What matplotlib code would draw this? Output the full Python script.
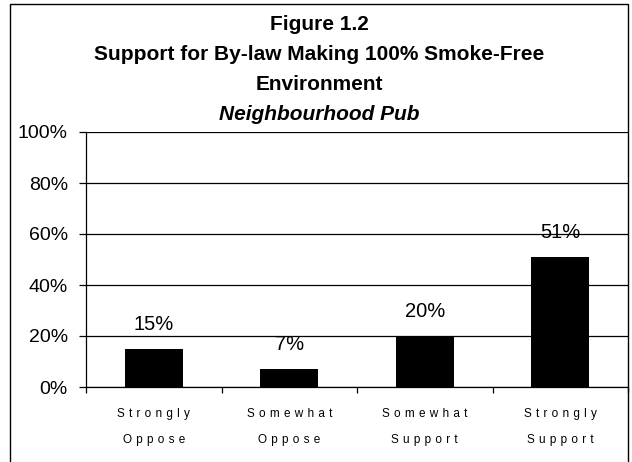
import matplotlib
matplotlib.use("Agg")
import matplotlib.pyplot as plt
from matplotlib.patches import Rectangle

plt.rcParams['font.family'] = ['Liberation Sans', 'DejaVu Sans']

SP = " \u200a"  # letter spacing for the category labels


def spaced(word):
    return SP.join(word)


categories = [("Strongly", "Oppose"), ("Somewhat", "Oppose"),
              ("Somewhat", "Support"), ("Strongly", "Support")]
values = [15, 7, 20, 51]
yticks = [0, 20, 40, 60, 80, 100]

fig = plt.figure(figsize=(6.32, 4.62), dpi=100)
ax = fig.add_axes([86 / 632, 1 - 387 / 462, 542 / 632, 255 / 462])

x = list(range(len(values)))
ax.bar(x, values, width=0.43, color="black", zorder=3)
for xi, v in zip(x, values):
    ax.annotate(f"{v}%", (xi, v), xytext=(0, 13.7), textcoords="offset points",
                ha="center", va="baseline", fontsize=14.5, zorder=4)

ax.set_xlim(-0.5, len(values) - 0.5)
ax.set_ylim(0, 100)
ax.set_yticks(yticks)
ax.set_yticklabels([f"{t}%" for t in yticks], fontsize=14)
ax.yaxis.grid(True, color="black", linewidth=0.9, zorder=0)
ax.tick_params(axis="y", length=5, width=0.9, pad=8)

ax.set_xticks(x)
ax.set_xticklabels([spaced(a) + "\n" + spaced(b) for a, b in categories],
                   fontsize=8.5, linespacing=2.6)
ax.set_xticks([i + 0.5 for i in range(-1, len(values))], minor=True)
ax.tick_params(axis="x", which="major", length=0, pad=15)
ax.tick_params(axis="x", which="minor", length=4, width=0.9, direction="out")

for s in ["left", "bottom"]:
    ax.spines[s].set_linewidth(0.9)
ax.spines["top"].set_visible(False)
ax.spines["right"].set_visible(False)

# outer frame around the chart
fig.patches.append(Rectangle((9.5 / 632, -0.1), 618.5 / 632, 1.1 - 4 / 462,
                             transform=fig.transFigure, fill=False,
                             edgecolor="black", linewidth=1.0))

title_lines = [("Figure 1.2", "normal", 30),
               ("Support for By-law Making 100% Smoke-Free", "normal", 60),
               ("Environment", "normal", 90),
               ("Neighbourhood Pub", "italic", 120)]
for text, style, ypx in title_lines:
    fig.text(0.5 * (10 + 628) / 632, 1 - ypx / 462, text, ha="center", va="baseline",
             fontsize=15, fontweight="bold", style=style)

fig.savefig("out.png", dpi=100)
